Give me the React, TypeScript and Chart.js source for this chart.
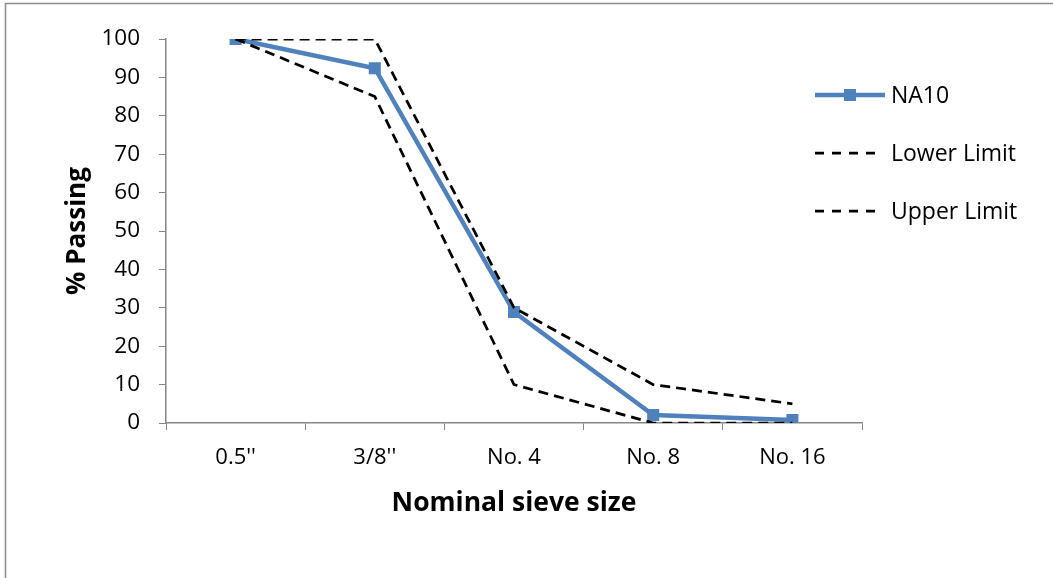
import React, { useEffect, useRef } from "react";
import { Chart, registerables } from "chart.js";

Chart.register(...registerables);

const categories = ["0.5''", "3/8''", "No. 4", "No. 8", "No. 16"];
const na10 = [100, 92.4, 28.9, 2.1, 0.8];
const lowerLimit = [100, 85, 10, 0, 0];
const upperLimit = [100, 100, 30, 10, 5];
const yTicks = [0, 10, 20, 30, 40, 50, 60, 70, 80, 90, 100];

const FONT = "'Open Sans', Lato, sans-serif";
const AXIS = "#868686";
const BLUE = "#4F81BD";

const borderPlugin = {
  id: "outerBorder",
  beforeDraw(chart: any) {
    const ctx = chart.ctx;
    ctx.save();
    ctx.strokeStyle = "#8c8c8c";
    ctx.lineWidth = 1.5;
    ctx.strokeRect(5.5, 3.5, 1200, 800);
    ctx.restore();
  },
};

const legendPlugin = {
  id: "customLegend",
  afterDraw(chart: any) {
    const ctx = chart.ctx;
    const ds = chart.data.datasets;
    const ys = [95, 153, 211];
    ctx.save();
    ds.forEach((d: any, i: number) => {
      const y = ys[i];
      ctx.beginPath();
      ctx.strokeStyle = d.borderColor;
      ctx.lineWidth = d.borderWidth;
      ctx.setLineDash(i === 0 ? [] : [9, 8]);
      ctx.moveTo(815, y);
      ctx.lineTo(i === 0 ? 885 : 881, y);
      ctx.stroke();
      ctx.setLineDash([]);
      if (d.pointRadius > 0) {
        ctx.fillStyle = d.pointBackgroundColor;
        ctx.fillRect(850 - 6, y - 6, 12, 12);
      }
      ctx.fillStyle = "#000";
      ctx.font = `23px ${FONT}`;
      ctx.textBaseline = "middle";
      ctx.textAlign = "left";
      ctx.fillText(d.label, 891, y + 1);
    });
    ctx.restore();
  },
};

export default function App() {
  const ref = useRef<HTMLCanvasElement | null>(null);
  useEffect(() => {
    if (!ref.current) return;
    const chart = new Chart(ref.current, {
      type: "line",
      data: {
        labels: categories,
        datasets: [
          {
            label: "NA10",
            data: na10,
            borderColor: BLUE,
            backgroundColor: BLUE,
            borderWidth: 4.5,
            pointStyle: "rect",
            pointRadius: 8.5,
            pointBackgroundColor: BLUE,
            pointBorderColor: BLUE,
            pointBorderWidth: 0,
            order: 3,
          } as any,
          {
            label: "Lower Limit",
            data: lowerLimit,
            borderColor: "#000",
            borderWidth: 2.75,
            borderDash: [10, 6],
            pointRadius: 0,
            order: 1,
          } as any,
          {
            label: "Upper Limit",
            data: upperLimit,
            borderColor: "#000",
            borderWidth: 2.75,
            borderDash: [10, 6],
            pointRadius: 0,
            order: 2,
          } as any,
        ],
      },
      options: {
        animation: false,
        responsive: false,
        layout: { padding: { left: 0, top: 39, right: 191, bottom: 0 } },
        plugins: {
          legend: { display: false },
          tooltip: { enabled: false },
        },
        scales: {
          x: {
            type: "category",
            offset: true,
            grid: {
              offset: true,
              drawOnChartArea: false,
              drawTicks: true,
              tickLength: 7,
              color: AXIS,
            },
            border: { color: AXIS, width: 1.5 },
            ticks: {
              color: "#000",
              padding: 15,
              maxRotation: 0,
              font: { family: FONT, size: 22 },
            },
            title: {
              display: true,
              text: "Nominal sieve size",
              color: "#000",
              font: { family: FONT, size: 26.5, weight: "bold" },
              padding: { top: 0, bottom: 59 },
            },
            afterFit(scale: any) {
              scale.height = 155;
            },
          },
          y: {
            min: 0,
            max: 100,
            afterBuildTicks(scale: any) {
              scale.ticks = yTicks.map((v) => ({ value: v }));
            },
            grid: {
              drawOnChartArea: false,
              drawTicks: true,
              tickLength: 7,
              color: AXIS,
            },
            border: { color: AXIS, width: 1.5 },
            ticks: {
              color: "#000",
              padding: 19,
              font: { family: FONT, size: 22.5 },
            },
            title: {
              display: true,
              text: "% Passing",
              color: "#000",
              font: { family: FONT, size: 26, weight: "bold" },
              padding: { top: 62, bottom: 0 },
            },
            afterFit(scale: any) {
              scale.width = 166;
            },
          },
        },
      },
      plugins: [borderPlugin, legendPlugin],
    } as any);
    return () => chart.destroy();
  }, []);
  return (
    <div style={{ position: "fixed", left: 0, top: 0, width: 1053, height: 578, background: "#fff" }}>
      <canvas ref={ref} width={1053} height={578} style={{ width: 1053, height: 578, display: "block" }} />
    </div>
  );
}
